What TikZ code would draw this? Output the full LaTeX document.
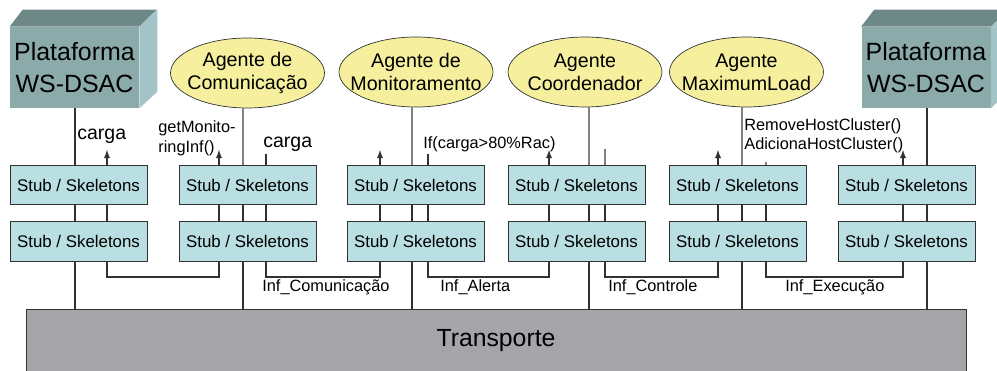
\documentclass[tikz,border=0pt]{standalone}
\usepackage{fontspec}
\setmainfont{Liberation Sans}
\usetikzlibrary{shapes.geometric}

\definecolor{platfrente}{RGB}{139,170,170}
\definecolor{plattopo}{RGB}{110,135,135}
\definecolor{platlado}{RGB}{163,196,199}
\definecolor{agamarelo}{RGB}{246,240,158}
\definecolor{stubazul}{RGB}{186,223,227}
\definecolor{transcinza}{RGB}{165,165,169}
\definecolor{linha}{RGB}{50,50,50}

\tikzset{
  plat/.style={fill=platfrente, minimum width=2.58cm, minimum height=1.62cm,
    inner sep=0pt, align=center, font=\fontsize{14.2}{18}\selectfont},
  agente/.style={ellipse, draw=linha, fill=agamarelo, minimum width=3.08cm,
    minimum height=1.4cm, inner xsep=-8pt, inner ysep=-2pt, align=center,
    font=\fontsize{11.2}{13}\selectfont},
  stubbox/.style={draw=linha, fill=stubazul, minimum width=2.74cm,
    minimum height=0.79cm, inner sep=0pt, font=\fontsize{9.6}{11}\selectfont},
  fio/.style={draw=linha, line width=0.6pt},
  fiocinza/.style={draw=gray, line width=0.6pt},
  seta/.style={fio, -latex},
  rotulo/.style={inner sep=0pt, anchor=base west, font=\fontsize{9.3}{11}\selectfont},
  rotulogrande/.style={inner sep=0pt, anchor=base west, font=\fontsize{11.1}{13}\selectfont},
}

\begin{document}
\begin{tikzpicture}[x=0.02cm, y=-0.02cm]
\useasboundingbox (0,0) rectangle (997,371);

% Plataformas
\node[plat] (pesq) at (74.5,67.5) {Plataforma\\WS-DSAC};
\fill[plattopo] (pesq.north west) -- ++(13,-17) -- ++(134,0) -- (pesq.north east) -- cycle;
\fill[platlado] (pesq.north east) -- ++(18,-17) -- ++(0,82) -- (pesq.south east) -- cycle;

\node[plat] (pdir) at (926,67.5) {Plataforma\\WS-DSAC};
\fill[plattopo] (pdir.north west) -- ++(13,-17) -- ++(134,0) -- (pdir.north east) -- cycle;
\fill[platlado] (pdir.north east) -- ++(18,-17) -- ++(0,82) -- (pdir.south east) -- cycle;

% Agentes
\node[agente] (acom) at (247.5,73) {Agente de\\Comunicação};
\node[agente] (amon) at (416,72) {Agente de\\Monitoramento};
\node[agente] (acoo) at (585,72) {Agente\\Coordenador};
\node[agente] (amax) at (746.5,72) {Agente\\MaximumLoad};

% Stubs / Skeletons
\foreach \x [count=\i] in {78.5,247.5,415.5,576.5,737.5,906.5} {
  \node[stubbox] (sa\i) at (\x,185) {Stub / Skeletons};
  \node[stubbox] (sb\i) at (\x,241.5) {Stub / Skeletons};
}

% Transporte
\node[fill=transcinza, draw=linha, minimum width=18.8cm, minimum height=1.26cm,
  inner sep=0pt, font=\fontsize{14.1}{17}\selectfont] (tr) at (496,340.5) {Transporte};

% Ligacoes de cima
\draw[fio] (75,0 |- pesq.south) -- (75,0 |- sa1.north);
\draw[fio] (927,0 |- pdir.south) -- (927,0 |- sa6.north);
\draw[fiocinza] (243,0 |- acom.south) -- (243,0 |- sa2.north);
\draw[fiocinza] (412,0 |- amon.south) -- (412,0 |- sa3.north);
\draw[fiocinza] (589,0 |- acoo.south) -- (589,0 |- sa4.north);
\draw[fiocinza] (742,0 |- amax.south) -- (742,0 |- sa5.north);

\foreach \x in {107,219,380,549,718,903}
  \draw[seta] (\x,0 |- sa1.north) -- (\x,150);

\draw[fio] (266,0 |- sa2.north) -- (266,154);
\draw[fio] (428,0 |- sa3.north) -- (428,154);
\draw[fiocinza] (605,0 |- sa4.north) -- (605,149);
\draw[fiocinza] (766,0 |- sa5.north) -- (766,162);

% Entre as camadas
\foreach \x in {75,107,219,243,266,380,412,428,549,589,605,718,742,766,903,927}
  \draw[fio] (\x,0 |- sa1.south) -- (\x,0 |- sb1.north);

% Ate o transporte
\foreach \x in {75,243,412,589,742,927}
  \draw[fio] (\x,0 |- sb1.south) -- (\x,0 |- tr.north);

% Interfaces
\foreach \a/\b in {107/219,266/380,428/549,605/718,766/903}
  \draw[fio] (\a,0 |- sb1.south) -- (\a,277) -- (\b,277) -- (\b,0 |- sb1.south);

% Rotulos
\node[rotulogrande] (carga1) at (77,140) {carga};
\node[rotulo] (getm1) at (158,133) {getMonito-};
\node[rotulo] (getm2) at (158,153) {ringInf()};
\node[rotulogrande] (carga2) at (263,148) {carga};
\node[rotulo] (ifcarga) at (423,149) {If(carga>80\%Rac)};
\node[rotulo] (remove) at (744,131) {RemoveHostCluster()};
\node[rotulo] (adiciona) at (744,150) {AdicionaHostCluster()};

\node[rotulo] (infcom) at (262,291) {Inf\_Comunicação};
\node[rotulo] (infale) at (440,291) {Inf\_Alerta};
\node[rotulo] (infcon) at (608,291) {Inf\_Controle};
\node[rotulo] (infexe) at (785,291) {Inf\_Execução};

\end{tikzpicture}
\end{document}
